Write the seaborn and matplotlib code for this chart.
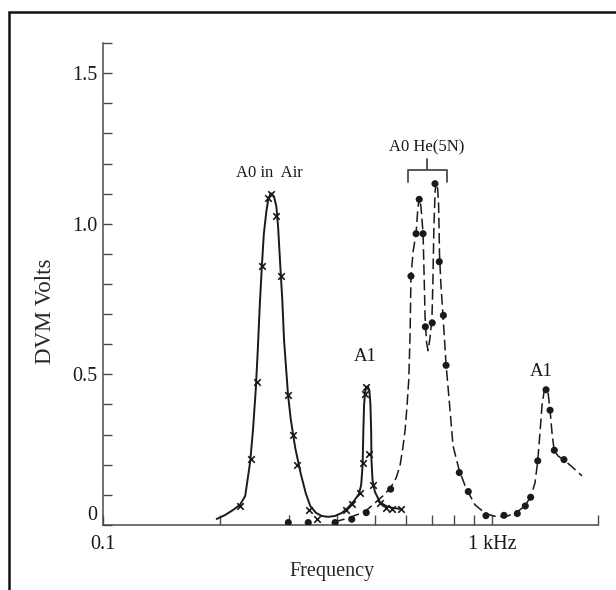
import matplotlib
matplotlib.use("Agg")
import matplotlib.pyplot as plt
import seaborn as sns
from matplotlib.ticker import FixedLocator, NullFormatter
from matplotlib.patches import Rectangle

# --- dati (frequenza in kHz, tensione DVM in V) ---
# curva continua: A0 e A1 in aria
air_curve_f = [0.196, 0.206, 0.216, 0.225, 0.232, 0.239, 0.243, 0.247, 0.250, 0.253,
               0.256, 0.259, 0.263, 0.266, 0.270, 0.275, 0.279, 0.282, 0.285, 0.289,
               0.292, 0.296, 0.299, 0.304, 0.312, 0.322, 0.332, 0.341, 0.353, 0.365,
               0.379, 0.395, 0.411, 0.426, 0.442, 0.455, 0.461, 0.465, 0.467, 0.469,
               0.472, 0.476, 0.480, 0.484, 0.487, 0.489, 0.490, 0.493, 0.500, 0.515,
               0.534, 0.553, 0.584]
air_curve_v = [0.020, 0.033, 0.050, 0.067, 0.096, 0.210, 0.316, 0.449, 0.582, 0.732,
               0.855, 0.964, 1.041, 1.081, 1.101, 1.091, 1.058, 0.988, 0.881, 0.748,
               0.615, 0.509, 0.432, 0.349, 0.256, 0.173, 0.106, 0.063, 0.040, 0.030,
               0.027, 0.030, 0.040, 0.057, 0.080, 0.103, 0.133, 0.200, 0.316, 0.399,
               0.442, 0.459, 0.459, 0.446, 0.399, 0.316, 0.216, 0.150, 0.110, 0.076,
               0.063, 0.057, 0.053]

# punti misurati in aria (croci)
air_pts_f = [0.225, 0.240, 0.2485, 0.257, 0.265, 0.270, 0.2785, 0.287, 0.2995, 0.308,
             0.316, 0.339, 0.355, 0.421, 0.437, 0.459, 0.466, 0.472, 0.475, 0.482,
             0.4935, 0.515, 0.533, 0.553, 0.582]
air_pts_v = [0.063, 0.220, 0.475, 0.861, 1.086, 1.100, 1.025, 0.826, 0.432, 0.298,
             0.200, 0.050, 0.020, 0.049, 0.068, 0.107, 0.206, 0.436, 0.457, 0.236,
             0.133, 0.072, 0.056, 0.054, 0.053]

# curva tratteggiata: elio
he_curve_f = [0.393, 0.419, 0.437, 0.458, 0.480, 0.503, 0.528, 0.550, 0.567, 0.580,
              0.590, 0.598, 0.605, 0.611, 0.616, 0.619, 0.627, 0.638, 0.645, 0.651,
              0.657, 0.665, 0.669, 0.673, 0.679, 0.685, 0.693, 0.701, 0.705, 0.709,
              0.714, 0.719, 0.724, 0.729, 0.733, 0.739, 0.748, 0.762, 0.776, 0.794,
              0.823, 0.857, 0.904, 0.965, 1.030, 1.099, 1.159, 1.215, 1.260, 1.290,
              1.311, 1.329, 1.345, 1.361, 1.377, 1.393, 1.410, 1.426, 1.444, 1.478,
              1.531, 1.606, 1.704]
he_curve_v = [0.010, 0.020, 0.028, 0.038, 0.053, 0.076, 0.100, 0.126, 0.156, 0.196,
              0.256, 0.316, 0.399, 0.482, 0.642, 0.825, 0.908, 0.968, 1.054, 1.087,
              1.054, 0.968, 0.831, 0.688, 0.605, 0.579, 0.622, 0.688, 0.815, 0.988,
              1.107, 1.137, 1.127, 1.064, 0.898, 0.798, 0.698, 0.532, 0.416, 0.263,
              0.183, 0.123, 0.067, 0.037, 0.027, 0.030, 0.043, 0.063, 0.096, 0.140,
              0.213, 0.309, 0.399, 0.442, 0.452, 0.442, 0.382, 0.309, 0.249, 0.229,
              0.216, 0.193, 0.163]

# punti misurati in elio (pallini)
he_pts_f = [0.2995, 0.337, 0.395, 0.436, 0.475, 0.549, 0.619, 0.638, 0.650, 0.665,
            0.674, 0.702, 0.7136, 0.732, 0.750, 0.762, 0.824, 0.869, 0.965, 1.0735,
            1.1615, 1.218, 1.257, 1.311, 1.377, 1.410, 1.446, 1.531]
he_pts_v = [0.008, 0.008, 0.008, 0.019, 0.041, 0.119, 0.826, 0.967, 1.081, 0.967,
            0.658, 0.671, 1.133, 0.874, 0.696, 0.530, 0.174, 0.111, 0.031, 0.032,
            0.038, 0.063, 0.092, 0.213, 0.449, 0.381, 0.248, 0.217]

INK = "#1a1a1a"
AXC = "#4a4a4a"

sns.set_theme(style="white")
plt.rcParams['font.family'] = ['Liberation Serif', 'DejaVu Serif']
plt.rcParams['text.color'] = INK

fig = plt.figure(figsize=(6.16, 5.90), dpi=100)
ax = fig.add_axes([0.1672, 0.1102, 0.8036, 0.8169])

# cornice esterna
fig.patches.append(Rectangle((0.014, -0.2), 1.2, 0.979 + 0.2, transform=fig.transFigure,
                             fill=False, lw=1.8, ec="#111111"))

sns.lineplot(x=air_curve_f, y=air_curve_v, sort=False, estimator=None,
             color=INK, lw=1.4, ax=ax)
sns.lineplot(x=he_curve_f, y=he_curve_v, sort=False, estimator=None,
             color=INK, lw=1.1, ax=ax)
ax.lines[-1].set_linestyle((0, (7, 3)))

sns.scatterplot(x=air_pts_f, y=air_pts_v, marker="x", s=22, color=INK,
                linewidth=1.2, ax=ax, zorder=3)
sns.scatterplot(x=he_pts_f, y=he_pts_v, marker="o", s=26, color=INK,
                edgecolor="none", ax=ax, zorder=3)

ax.set_xscale("log")
ax.set_xlim(0.1, 1.873)
ax.set_ylim(0, 1.6)

ax.set_xticks([0.1, 1.0])
ax.set_xticklabels(["0.1", "1 kHz"])
ax.xaxis.set_minor_locator(FixedLocator([0.2, 0.3, 0.4, 0.5, 0.6, 0.7, 0.8, 0.9, 1.873]))
ax.xaxis.set_minor_formatter(NullFormatter())

ax.set_yticks([0, 0.5, 1.0, 1.5])
ax.set_yticklabels(["0", "0.5", "1.0", "1.5"])
ax.yaxis.set_minor_locator(FixedLocator([0.1, 0.2, 0.3, 0.4, 0.6, 0.7, 0.8, 0.9,
                                         1.1, 1.2, 1.3, 1.4, 1.6]))

ax.tick_params(axis="x", which="both", direction="in", length=7.2, width=1.0,
               color=AXC, labelsize=14.5, pad=7, labelcolor=INK, bottom=True)
ax.tick_params(axis="y", which="both", direction="in", length=6.5, width=1.0,
               color=AXC, labelsize=14.5, pad=4, labelcolor=INK, left=True)
ax.get_yticklabels()[0].set_verticalalignment("bottom")

sns.despine(ax=ax)
for s in ("left", "bottom"):
    ax.spines[s].set_color(AXC)
    ax.spines[s].set_linewidth(1.1)

ax.set_xlabel("Frequency", fontsize=14.5)
ax.xaxis.set_label_coords(0.4626, -0.0975)
ax.xaxis.label.set_verticalalignment("center")
ax.set_ylabel("DVM Volts", fontsize=16.5)
ax.yaxis.set_label_coords(-0.117, 0.444)
ax.yaxis.label.set_verticalalignment("center")

# etichette dei picchi
ax.text(0.2672, 1.167, "A0 in  Air", fontsize=12, ha="center", va="center")
ax.text(0.4716, 0.560, "A1", fontsize=13.5, ha="center", va="center")
ax.text(1.341, 0.509, "A1", fontsize=13.5, ha="center", va="center")
ax.text(0.6806, 1.254, "A0 He(5N)", fontsize=12, ha="center", va="center")

# parentesi sopra i due picchi in elio
br_left, br_right, br_mid = 0.6069, 0.7662, 0.6806
br_y, br_leg, br_top = 1.178, 1.137, 1.216
ax.plot([br_left, br_left, br_right, br_right], [br_leg, br_y, br_y, br_leg],
        color=AXC, lw=1.3)
ax.plot([br_mid, br_mid], [br_y, br_top], color=AXC, lw=1.3)

fig.savefig("out.png", dpi=100)
